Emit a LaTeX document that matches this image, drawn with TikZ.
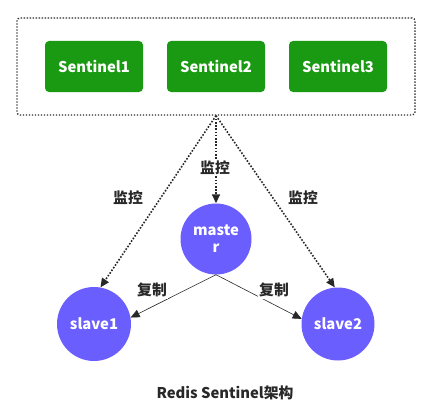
\documentclass[tikz,border=0pt]{standalone}
\usepackage{fontspec}
\setmainfont{Noto Sans CJK SC}
\usetikzlibrary{arrows.meta}
\definecolor{sgreen}{RGB}{26,153,18}
\definecolor{spurple}{RGB}{107,94,255}
\definecolor{dgray}{RGB}{40,40,40}
\begin{document}
\begin{tikzpicture}[x=1pt,y=-1pt,
  font=\fontsize{14.8pt}{17pt}\selectfont\bfseries,
  senbox/.style={fill=sgreen,text=white,rounded corners=4pt,minimum width=98pt,minimum height=51pt,inner sep=0pt},
  rnode/.style={circle,fill=spurple,text=white,inner sep=0pt,align=center},
  monitor/.style={dash pattern=on 1.6pt off 1.6pt,line width=1.6pt,draw=dgray,-{Triangle[length=9pt,width=8pt]}},
  repl/.style={draw=dgray,line width=0.6pt,-{Triangle[length=9pt,width=8pt]}},
  lbl/.style={text=dgray,fill=white,inner sep=1.5pt}]
\useasboundingbox (0,0) rectangle (427,409);
\node[draw=dgray,dash pattern=on 1.3pt off 1.7pt,line width=1.3pt,rounded corners=3pt,minimum width=398pt,minimum height=97pt,inner sep=0pt] (box) at (216,66.5) {};
\node[senbox] (s1) at (94,66.5) {Sentinel1};
\node[senbox] (s2) at (216,66.5) {Sentinel2};
\node[senbox] (s3) at (338,66.5) {Sentinel3};
\node[rnode,minimum size=71pt] (master) at (216,239) {maste\\r};
\node[rnode,minimum size=74pt] (slave1) at (94,324) {slave1};
\node[rnode,minimum size=73pt] (slave2) at (338,324) {slave2};
\draw[monitor] (box.south) -- (slave1.80);
\draw[monitor] (box.south) -- (master.north);
\draw[monitor] (box.south) -- (slave2.95);
\draw[repl] (master.south) -- (slave1.10);
\draw[repl] (master.south) -- (slave2.172);
\node[lbl] (m1) at (128,198) {监控};
\node[lbl] (m2) at (215,168) {监控};
\node[lbl] (m3) at (303,198) {监控};
\node[lbl] (r1) at (152,290) {复制};
\node[lbl] (r2) at (274,290) {复制};
\node[lbl] (cap) at (225,393) {Redis Sentinel架构};
\end{tikzpicture}
\end{document}
